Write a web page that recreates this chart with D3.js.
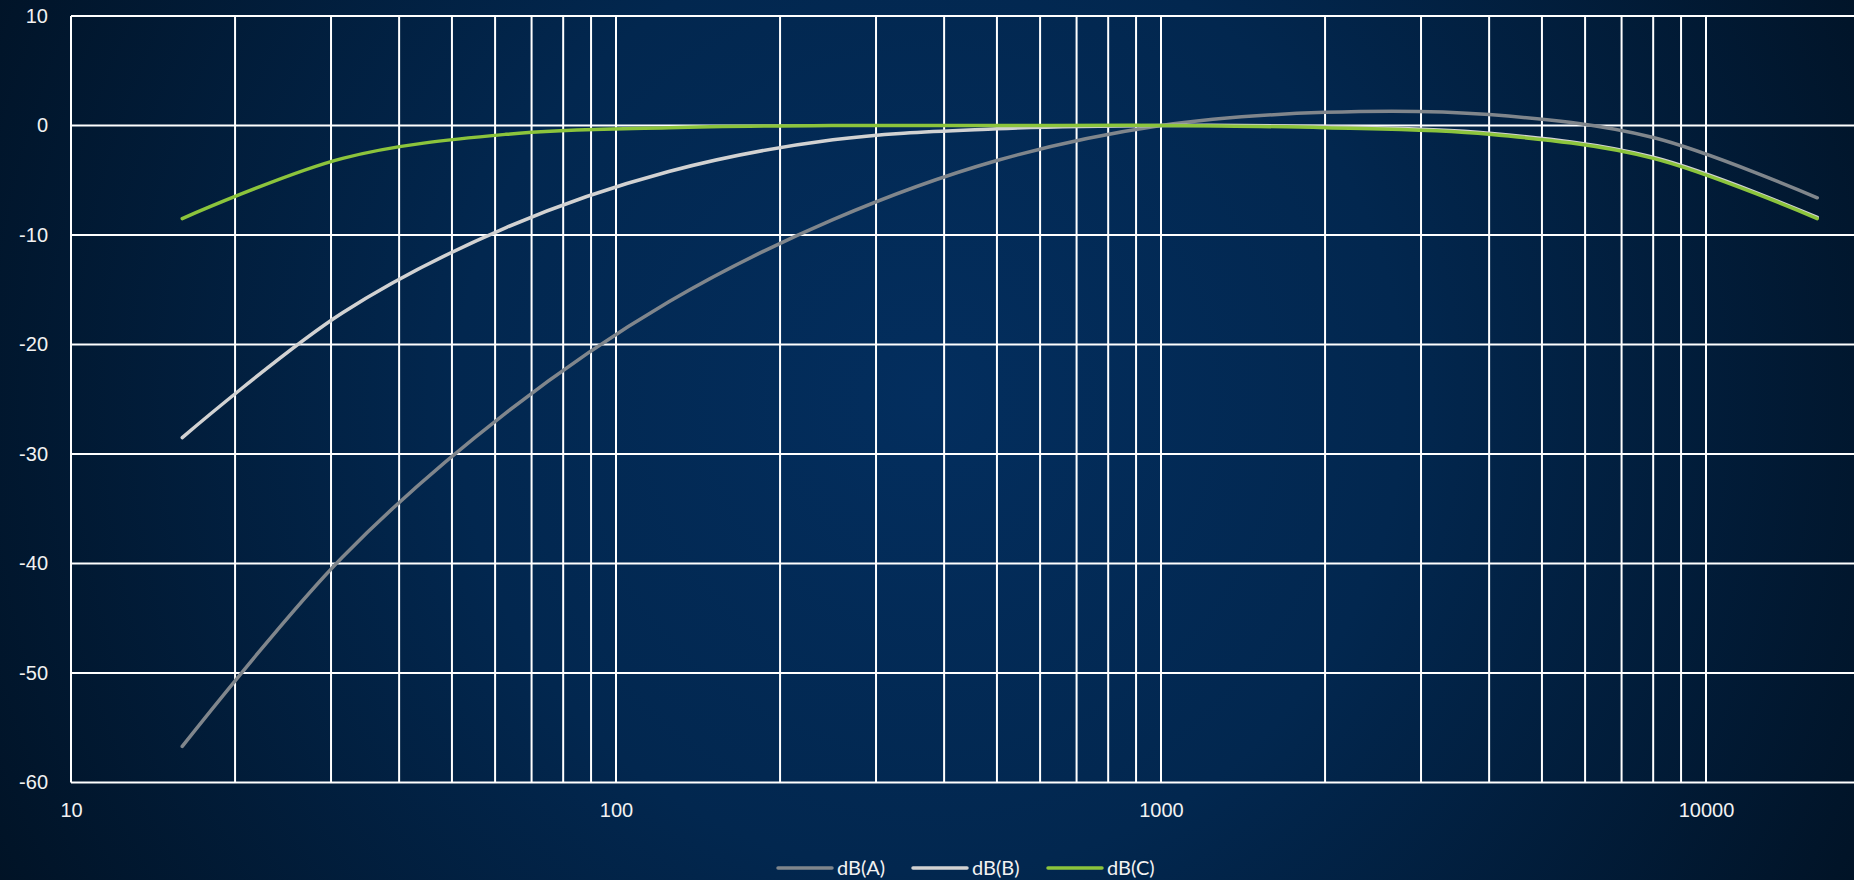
<!DOCTYPE html>
<html>
<head>
<meta charset="utf-8">
<script src="https://cdn.jsdelivr.net/npm/d3@7"></script>
<style>
  html, body { margin: 0; padding: 0; background: #011428; overflow: hidden; }
  svg { display: block; font-family: Lato, "Open Sans", sans-serif; }
</style>
</head>
<body>
<div id="chart"></div>
<script>
// octave band centre frequencies (Hz)
const freqs = [16, 31.5, 63, 125, 250, 500, 1000, 2000, 4000, 8000, 16000];

const dbA = [-56.7, -39.4, -26.2, -16.1, -8.6, -3.2, 0, 1.2, 1.0, -1.1, -6.6];
const dbB = [-28.5, -17.1, -9.3, -4.2, -1.3, -0.3, 0, -0.1, -0.7, -2.9, -8.4];
const dbC = [-8.5, -3.0, -0.8, -0.2, 0, 0, 0, -0.2, -0.8, -3.0, -8.5];

const seriesNames = ['dB(A)', 'dB(B)', 'dB(C)'];
const seriesColors = ['#80868c', '#d2d2d2', '#8cc43c'];
const yTicks = [10, 0, -10, -20, -30, -40, -50, -60];
const xTicks = [10, 100, 1000, 10000];

let dim = { width: 1854, height: 880 };
let m = { left: 71, top: 16, bottom: 782.5 };

let svg = d3.select('#chart').append('svg')
  .attr('width', dim.width)
  .attr('height', dim.height);

// background
let defs = svg.append('defs');
let grad = defs.append('radialGradient')
  .attr('id', 'bg')
  .attr('gradientUnits', 'userSpaceOnUse')
  .attr('cx', 930).attr('cy', 400).attr('r', 1050);
grad.append('stop').attr('offset', 0).attr('stop-color', '#032e5e');
grad.append('stop').attr('offset', 0.45).attr('stop-color', '#02274f');
grad.append('stop').attr('offset', 1).attr('stop-color', '#011326');
svg.append('rect').attr('width', dim.width).attr('height', dim.height).attr('fill', 'url(#bg)');

let decade = 545;
let x = d3.scaleLog()
  .domain([10, 20000])
  .range([m.left, m.left + decade * Math.log10(2000)]);

let y = d3.scaleLinear()
  .domain([-60, 10])
  .range([m.bottom, m.top]);

// grid
let vgrid = [];
for (let p = 10; p <= 10000; p *= 10) {
  for (let k = 1; k < 10; k++) { if (p * k <= 20000) vgrid.push(p * k); }
}
vgrid.push(10000, 20000);

svg.append('g').selectAll('line')
  .data(vgrid)
  .enter().append('line')
  .attr('x1', d => x(d)).attr('x2', d => x(d))
  .attr('y1', y(10)).attr('y2', y(-60))
  .attr('stroke', '#ffffff')
  .attr('stroke-width', 2);

svg.append('g').selectAll('line')
  .data(yTicks)
  .enter().append('line')
  .attr('x1', x(10)).attr('x2', x(20000))
  .attr('y1', d => y(d)).attr('y2', d => y(d))
  .attr('stroke', '#ffffff')
  .attr('stroke-width', 2);

// axes labels (plain hyphen for negatives, like the original)
let fmt = d => String(d);
let axisY = d3.axisLeft(y).tickValues(yTicks).tickSize(0).tickPadding(23).tickFormat(fmt);
let gy = svg.append('g').attr('transform', `translate(${m.left},0)`).call(axisY);
gy.select('.domain').remove();
gy.selectAll('text').attr('fill', '#f2f2f2').style('font-size', '20px');

let axisX = d3.axisBottom(x).tickValues(xTicks).tickSize(0).tickPadding(20).tickFormat(fmt);
let gx = svg.append('g').attr('transform', `translate(0,${m.bottom})`).call(axisX);
gx.select('.domain').remove();
gx.selectAll('text').attr('fill', '#f2f2f2').style('font-size', '20px');

// curves
let line = d3.line()
  .x((d, i) => x(freqs[i]))
  .y(d => y(d))
  .curve(d3.curveCatmullRom.alpha(0.5));

[dbA, dbB, dbC].forEach((s, i) => {
  svg.append('path')
    .datum(s)
    .attr('d', line)
    .attr('fill', 'none')
    .attr('stroke', seriesColors[i])
    .attr('stroke-width', 3.5)
    .attr('stroke-linecap', 'round');
});

// legend
let legX = [778, 913, 1048];
let legend = svg.append('g').attr('transform', 'translate(0,868)');
seriesNames.forEach((n, i) => {
  legend.append('line')
    .attr('x1', legX[i]).attr('x2', legX[i] + 54)
    .attr('y1', 0).attr('y2', 0)
    .attr('stroke', seriesColors[i])
    .attr('stroke-width', 3.5)
    .attr('stroke-linecap', 'round');
  legend.append('text')
    .attr('x', legX[i] + 59).attr('y', 0)
    .attr('dy', '0.35em')
    .attr('fill', '#f2f2f2')
    .style('font-size', '20px')
    .text(n);
});
</script>
</body>
</html>
